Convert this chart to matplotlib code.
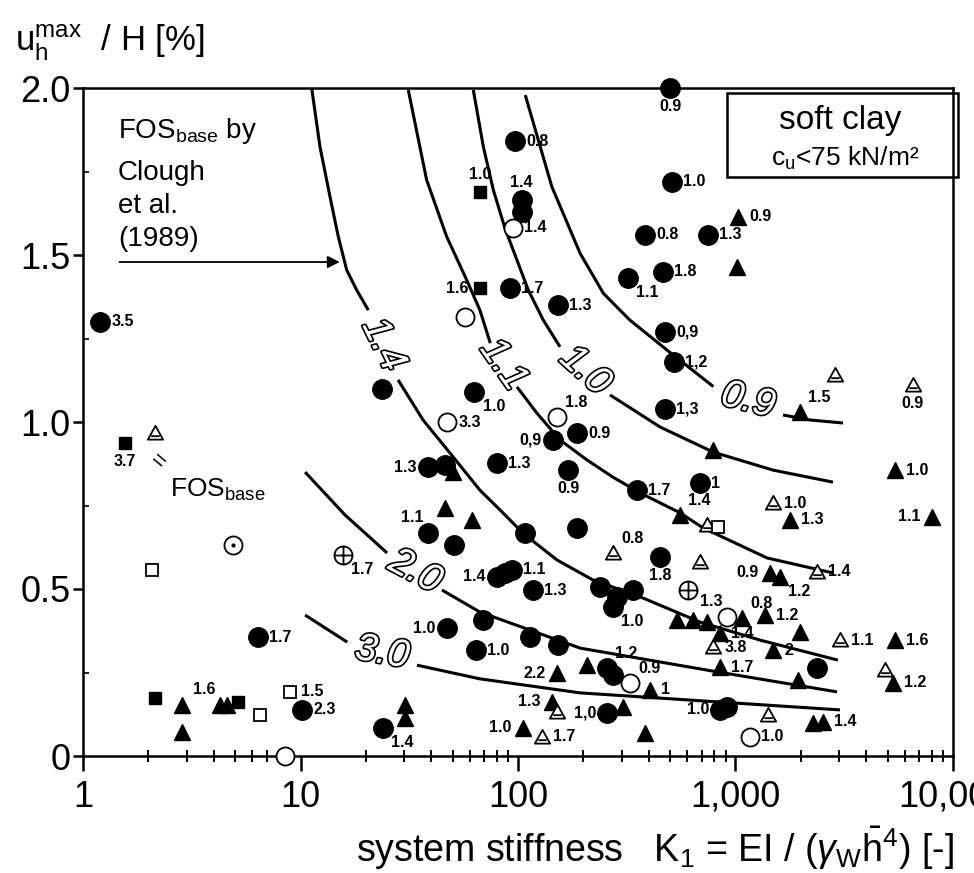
import matplotlib
matplotlib.use("Agg")
import matplotlib.pyplot as plt
import matplotlib.patheffects as pe
from matplotlib.path import Path
from matplotlib.patches import Rectangle
from matplotlib.ticker import FixedLocator, FuncFormatter, NullFormatter
import numpy as np

plt.rcParams['font.family'] = ['Liberation Sans', 'DejaVu Sans']
plt.rcParams['mathtext.fontset'] = 'custom'
plt.rcParams['mathtext.rm'] = 'Liberation Sans'
plt.rcParams['mathtext.it'] = 'Liberation Sans:italic'

nan = np.nan

# FOS_base contours by Clough et al. (1989), nan = gap for the curve label
c09_K = [108, 124, 143, 193, 247, 327, 483, 791, nan, 1653, 2203, 3120]
c09_u = [1.979, 1.844, 1.705, 1.505, 1.385, 1.305, 1.216, 1.106, nan, 1.021, 1.006, 0.997]
c10_K = [62.3, 69.3, 77.0, 87.1, 111.5, 130.7, 156, nan, 265, 450, 789, 1487, 2807]
c10_u = [1.994, 1.824, 1.695, 1.580, 1.395, 1.305, 1.225, nan, 1.081, 0.985, 0.910, 0.856, 0.820]
c11_K = [31.3, 38.0, 47.0, 58.1, 66.8, 74.6, nan, 98.9, 122, 156, 208, 273, 366, 556, 709, 1396, 2807]
c11_u = [1.994, 1.725, 1.555, 1.425, 1.335, 1.236, nan, 1.105, 1.027, 0.946, 0.886, 0.835, 0.787,
         0.728, 0.683, 0.593, 0.548]
c14_K = [11.26, 12.29, 13.66, 14.92, 16.31, 18.13, 20.5, nan, 28.1, 36.6, 48.7, 66.8, 85.3, 105, 151,
         221, 366, 687, 1297, 2958]
c14_u = [1.999, 1.824, 1.675, 1.555, 1.455, 1.395, 1.335, nan, 1.126, 1.006, 0.907, 0.796, 0.728, 0.668,
         0.587, 0.527, 0.476, 0.401, 0.347, 0.287]
c20_K = [10.5, 16.0, 25.0, nan, 44.7, 66.8, 193, 789, 2929]
c20_u = [0.850, 0.722, 0.608, nan, 0.497, 0.431, 0.323, 0.254, 0.192]
c30_K = [10.5, 16.4, nan, 34.3, 66.8, 193, 3022]
c30_u = [0.422, 0.341, nan, 0.272, 0.231, 0.189, 0.138]

cl_text = ['0.9', '1.0', '1.1', '1.4', '2.0', '3.0']
cl_K = [1141, 203, 85.3, 23.9, 33.6, 23.7]
cl_u = [1.063, 1.153, 1.171, 1.231, 0.551, 0.308]
cl_rot = [-14, -42, -55, -64, -28, -10]

# filled circles
fc_K = [1.2, 500, 97, 104, 104, 511, 384, 748, 464, 321, 92, 153, 474, 522, 474, 23.7, 63, 145, 187,
        38.6, 46, 80, 170, 38.6, 51, 108, 187, 80, 87, 94, 117, 352, 687, 450, 238, 284, 338, 273,
        47, 69, 64, 114, 153, 257, 273, 257, 849, 914, 2371, 6.4, 10.2, 23.9]
fc_u = [1.30, 2.0, 1.84, 1.665, 1.63, 1.72, 1.56, 1.56, 1.45, 1.43, 1.40, 1.35, 1.27, 1.18, 1.04, 1.10,
        1.09, 0.946, 0.967, 0.865, 0.87, 0.877, 0.856, 0.668, 0.632, 0.668, 0.683, 0.536, 0.548, 0.557,
        0.497, 0.796, 0.817, 0.596, 0.506, 0.476, 0.497, 0.446, 0.383, 0.407, 0.317, 0.356, 0.332,
        0.263, 0.243, 0.129, 0.138, 0.147, 0.263, 0.356, 0.138, 0.084]
fc_lab = ['3.5', '0.9', '0.8', '1.4', '', '1.0', '0.8', '1.3', '1.8', '1.1', '1.7', '1.3', '0,9', '1,2',
          '1,3', '', '1.0', '0,9', '0.9', '1.3', '', '1.3', '0.9', '1.1', '', '', '', '1.4', '', '1.1',
          '1.3', '1.7', '1', '1.8', '', '', '', '1.0', '1.0', '', '1.0', '', '', '1.2', '', '1,0', '1.0',
          '', '', '1.7', '2.3', '1.4']
fc_pos = ['r', 'b', 'r', 'a', '', 'r', 'r', 'r', 'r', 'br', 'r', 'r', 'r', 'r', 'r', '', 'br', 'l', 'r',
          'l', '', 'r', 'b', 'al', '', '', '', 'l', '', 'r', 'r', 'r', 'r', 'b', '', '', '', 'br', 'l',
          '', 'r', '', '', 'ar', '', 'l', 'l', '', '', 'r', 'r', 'br']

# filled triangles
ft_K = [1026, 1016, 1981, 789, 50, 46, 61.5, 556, 1781, 5410, 8004, 1441, 1602, 538, 638, 740, 1071,
        1367, 849, 1981, 1487, 5410, 849, 1938, 5297, 2271, 2526, 384, 151, 208, 404, 143, 304, 105,
        2.85, 2.85, 4.26, 4.6, 30.2, 30.2]
ft_u = [1.614, 1.464, 1.03, 0.916, 0.85, 0.743, 0.707, 0.722, 0.707, 0.856, 0.716, 0.548, 0.536, 0.407,
        0.407, 0.401, 0.413, 0.422, 0.368, 0.371, 0.317, 0.347, 0.266, 0.228, 0.219, 0.099, 0.102,
        0.069, 0.248, 0.272, 0.198, 0.162, 0.147, 0.084, 0.153, 0.072, 0.153, 0.153, 0.153, 0.114]
ft_lab = ['0.9', '', '1.5', '', '', '', '', '1.4', '1.3', '1.0', '1.1', '0.9', '1.2', '', '', '', '0.8',
          '1.2', '1.4', '', '2', '1.6', '1.7', '', '1.2', '', '1.4', '', '2.2', '', '1', '1.3', '', '1.0',
          '', '', '1.6', '', '', '']
ft_pos = ['r', '', 'ar', '', '', '', '', 'ar', 'r', 'r', 'l', 'l', 'br', '', '', '', 'ar', 'r', 'r', '',
          'r', 'r', 'r', '', 'r', '', 'r', '', 'l', '', 'r', 'l', '', 'l', '', '', 'al', '', '', '']

# filled squares
fs_K = [66.8, 66.8, 1.56, 2.14, 5.16]
fs_u = [1.689, 1.401, 0.937, 0.174, 0.162]
fs_lab = ['1.0', '1.6', '3.7', '', '']
fs_pos = ['a', 'l', 'b', '', '']

# open circles
oc_K = [94.8, 57, 47.2, 151, 914, 327, 1166, 8.49]
oc_u = [1.581, 1.314, 1.0, 1.015, 0.416, 0.219, 0.057, 0.0]
oc_lab = ['1.4', '', '3.3', '1.8', '1.3', '0.9', '1.0', '']
oc_pos = ['r', '', 'r', 'ar', 'al', 'ar', 'r', '']

# open triangles
ot_K = [2.14, 2867, 6545, 740, 1487, 273, 687, 2371, 789, 3022, 4864, 1410, 151, 129]
ot_u = [0.967, 1.141, 1.111, 0.692, 0.757, 0.608, 0.581, 0.551, 0.326, 0.347, 0.257, 0.123, 0.132, 0.057]
ot_lab = ['', '', '0.9', '', '1.0', '0.8', '', '1.4', '3.8', '1.1', '', '', '', '1.7']
ot_pos = ['', '', 'b', '', 'r', 'ar', '', 'r', 'r', 'r', '', '', '', 'r']

# open squares
os_K = [831, 2.08, 6.51, 8.95]
os_u = [0.686, 0.557, 0.123, 0.192]
os_lab = ['', '', '', '1.5']
os_pos = ['', '', '', 'r']

# circle with cross, circle with dot
op_K = [15.7, 605]
op_u = [0.602, 0.497]
op_lab = ['1.7', '']
op_pos = ['br', '']
od_K = [4.9]
od_u = [0.632]

x_ticks = [1, 10, 100, 1000, 10000]
y_ticks = [0, 0.5, 1.0, 1.5, 2.0]

fig = plt.figure(figsize=(9.74, 8.73), dpi=100)
ax = fig.add_axes([83 / 974, 1 - 756 / 873, 870 / 974, 668 / 873])
ax.set_xscale('log')
ax.set_xlim(1, 10000)
ax.set_ylim(0, 2.0)

for s in ax.spines.values():
    s.set_linewidth(1.8)

ax.xaxis.set_major_locator(FixedLocator(x_ticks))
ax.xaxis.set_major_formatter(FuncFormatter(lambda v, p: f"{int(round(v)):,}"))
minor_x = [m * d for d in x_ticks[:-1] for m in range(2, 10)]
ax.xaxis.set_minor_locator(FixedLocator(minor_x))
ax.xaxis.set_minor_formatter(NullFormatter())
ax.yaxis.set_major_locator(FixedLocator(y_ticks))
ax.yaxis.set_major_formatter(FuncFormatter(lambda v, p: '0' if v == 0 else f"{v:.1f}"))
ax.yaxis.set_minor_locator(FixedLocator([0.25, 0.75, 1.25, 1.75]))
ax.tick_params(axis='x', which='major', direction='out', length=11, width=1.8, pad=6, labelsize=26)
ax.tick_params(axis='x', which='minor', direction='inout', length=8, width=1.4)
ax.tick_params(axis='y', which='major', direction='out', length=7, width=1.8, pad=2, labelsize=26)
ax.tick_params(axis='y', which='minor', direction='in', length=4, width=1.2)

# contour curves
for ck, cu in [(c09_K, c09_u), (c10_K, c10_u), (c11_K, c11_u), (c14_K, c14_u), (c20_K, c20_u), (c30_K, c30_u)]:
    ax.plot(ck, cu, color='k', lw=2.2, zorder=2, solid_capstyle='butt', solid_joinstyle='round')

for t, k, u, r in zip(cl_text, cl_K, cl_u, cl_rot):
    ax.text(k, u, t, rotation=r, rotation_mode='anchor', fontsize=28, style='italic', color='white',
            ha='center', va='center', zorder=5,
            path_effects=[pe.withStroke(linewidth=2.4, foreground='k')])

# custom markers
tri_bar = Path([(-1, -0.8), (1, -0.8), (0, 1), (-1, -0.8), (-0.55, -0.35), (0.55, -0.35)],
               [Path.MOVETO, Path.LINETO, Path.LINETO, Path.CLOSEPOLY, Path.MOVETO, Path.LINETO])
cross = Path([(-1, 0), (1, 0), (0, -1), (0, 1)], [Path.MOVETO, Path.LINETO, Path.MOVETO, Path.LINETO])
oplus = Path.make_compound_path(Path.unit_circle(), cross)

mk = dict(ls='none', mec='k', clip_on=False, zorder=3)
ax.plot(fc_K, fc_u, marker='o', ms=14, mfc='k', mew=1, **mk)
ax.plot(ft_K, ft_u, marker='^', ms=11, mfc='k', mew=1, **mk)
ax.plot(fs_K, fs_u, marker='s', ms=9, mfc='k', mew=1, **mk)
ax.plot(oc_K, oc_u, marker='o', ms=13, mfc='white', mew=1.3, **mk)
ax.plot(ot_K, ot_u, marker=tri_bar, ms=11, mfc='white', mew=1.3, **mk)
ax.plot(os_K, os_u, marker='s', ms=9, mfc='white', mew=1.3, **mk)
ax.plot(op_K, op_u, marker=oplus, ms=13, mfc='white', mew=1.3, **mk)
ax.plot(od_K, od_u, marker='o', ms=13, mfc='white', mew=1.3, **mk)
ax.plot(od_K, od_u, marker='o', ms=3, mfc='k', mew=0, **mk)

offsets = {'r': (8, 0, 'left', 'center'), 'l': (-8, 0, 'right', 'center'),
           'a': (0, 7, 'center', 'bottom'), 'b': (0, -8, 'center', 'top'),
           'ar': (6, 5, 'left', 'bottom'), 'br': (6, -5, 'left', 'top'),
           'al': (-3, 6, 'right', 'bottom')}


def add_labels(ks, us, labs, poss):
    for k, u, lab, p in zip(ks, us, labs, poss):
        if not lab:
            continue
        dx, dy, ha, va = offsets[p]
        ax.annotate(lab, (k, u), xytext=(dx, dy), textcoords='offset points', ha=ha, va=va,
                    fontsize=11.5, fontweight='bold', zorder=4, annotation_clip=False)


add_labels(fc_K, fc_u, fc_lab, fc_pos)
add_labels(ft_K, ft_u, ft_lab, ft_pos)
add_labels(fs_K, fs_u, fs_lab, fs_pos)
add_labels(oc_K, oc_u, oc_lab, oc_pos)
add_labels(ot_K, ot_u, ot_lab, ot_pos)
add_labels(os_K, os_u, os_lab, os_pos)
add_labels(op_K, op_u, op_lab, op_pos)

# Clough annotation
ax.text(1.45, 1.85, r"FOS$_{\mathregular{base}}$ by", fontsize=20, va='baseline')
ax.text(1.45, 1.725, "Clough", fontsize=20, va='baseline')
ax.text(1.45, 1.626, "et al.", fontsize=20, va='baseline')
ax.text(1.45, 1.527, "(1989)", fontsize=20, va='baseline')
ax.annotate('', xy=(15.6, 1.479), xytext=(1.43, 1.479),
            arrowprops=dict(arrowstyle='-|>', color='k', lw=1.3, mutation_scale=18))
ax.text(2.19, 0.88, "=", rotation=-40, fontsize=17, ha='center', va='center')
ax.text(2.5, 0.775, r"FOS$_{\mathregular{base}}$", fontsize=19, va='baseline')

# soft clay box
ax.add_patch(Rectangle((0.740, 0.867), 0.266, 0.126, transform=ax.transAxes, fill=False,
                       lw=1.8, ec='k', clip_on=False, zorder=6))
ax.text(0.870, 0.952, "soft clay", transform=ax.transAxes, ha='center', va='center', fontsize=24)
ax.text(0.876, 0.895, r"c$_{\mathregular{u}}$<75 kN/m²", transform=ax.transAxes, ha='center',
        va='center', fontsize=19)

fig.text(0.015, 0.941, r"$\mathregular{u_h^{max}}$  / H [%]", fontsize=25, va='baseline')
fig.text(0.979, 0.028,
         r"system stiffness   K$_{\mathregular{1}}$ = EI / ($\gamma_{\mathregular{W}}\bar{\mathregular{h}}^{\mathregular{4}}$) [-]",
         fontsize=27, ha='right', va='center')

fig.savefig('out.png', dpi=100)
